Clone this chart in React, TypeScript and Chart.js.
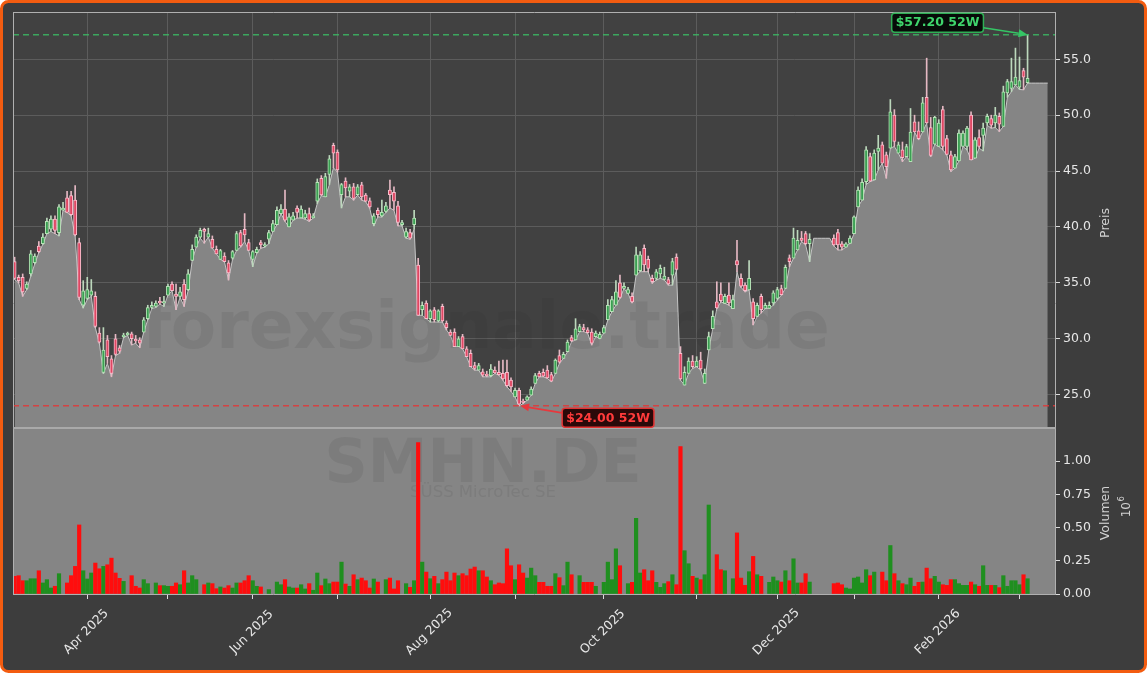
import React, { useEffect, useRef } from 'react';
import { Chart, registerables } from 'chart.js';

Chart.register(...registerables);

// ---- Data (SMHN.DE daily, trading-day index 0 = 2025-03-06) ----
const opens: (number | null)[] = [
  36.9, 35.5, 35.5, 34.5, 35.8, 36.8, 38.3, 38.5, 39.4, 39.8,
  40.7, 39.5, 41.5, 42.6, 42.8, 42.4, 38.6, 33.0, 33.6, 33.9,
  33.8, 30.5, 27.0, 29.9, 28.2, 30.0, 29.2, 30.2, 30.35, 30.45,
  29.95, 29.9, 30.6, 31.8, 32.8, 32.9, 33.35, 33.2, 33.9, 34.9,
  34.0, 33.8, 34.9, 34.4, 37.0, 38.2, 39.1, 39.8, 39.1, 38.9,
  38.0, 37.1, 37.4, 36.8, 37.2, 37.9, 39.5, 39.8, 38.6, 37.1,
  37.7, 38.6, 38.3, 38.9, 39.6, 40.2, 41.2, 41.6, 40.0, 40.6,
  41.7, 40.8, 40.8, 41.2, 40.8, 42.3, 44.35, 42.7, 44.7, 47.3,
  46.7, 42.9, 44.1, 43.2, 43.6, 42.9, 43.76, 42.86, 42.35, 40.3,
  41.5, 41.0, 41.4, 43.3, 43.1, 41.9, 40.2, 39.1, 39.5, 40.2,
  36.6, 32.6, 33.2, 31.8, 32.6, 31.6, 32.9, 31.4, 30.6, 30.6,
  29.3, 30.2, 29.1, 28.7, 27.6, 27.2, 27.05, 26.8, 26.7, 27.2,
  27.0, 26.9, 27.0, 26.3, 24.8, 25.4, 24.4, 24.5, 24.95, 26.0,
  26.9, 27.0, 27.2, 26.8, 26.9, 28.5, 28.25, 28.84, 30.1, 29.9,
  30.63, 31.0, 30.8, 30.6, 30.2, 30.04, 30.5, 31.7, 32.42, 33.0,
  35.0, 34.5, 34.06, 33.8, 35.7, 36.1, 38.1, 37.1, 35.4, 35.4,
  35.8, 35.3, 35.3, 35.7, 37.3, 28.7, 25.86, 26.9, 28.0, 27.5,
  28.1, 26.0, 29.0, 30.9, 33.3, 34.0, 33.17, 33.9, 32.7, 37.0,
  35.4, 34.8, 34.36, 33.3, 32.0, 33.8, 32.72, 32.72, 33.2, 33.6,
  34.5, 34.5, 37.25, 37.2, 37.94, 39.0, 39.4, 38.5, null, null,
  null, null, null, 39.0, 39.5, 38.5, 38.2, 38.54, 39.4, 41.8,
  42.4, 44.06, 46.3, 44.2, 46.75, 47.35, 46.45, 47.05, 50.0, 46.6,
  46.9, 46.3, 45.85, 49.4, 48.6, 48.5, 51.6, 48.9, 47.4, 47.2,
  50.5, 47.9, 46.45, 45.25, 45.9, 47.2, 47.2, 50.0, 46.15, 48.0,
  48.2, 49.3, 49.7, 49.3, 49.9, 49.0, 52.0, 52.4, 52.7, 52.5,
  54.0, 52.9, null, null, null, null, null,
];

const highs: (number | null)[] = [
  37.3, 35.7, 35.8, 35.1, 37.9, 37.6, 38.7, 39.4, 40.8, 41.0,
  41.0, 42.0, 42.2, 43.2, 43.2, 43.7, 39.0, 35.2, 35.5, 35.3,
  34.2, 31.0, 31.0, 30.3, 28.5, 30.4, 29.4, 30.5, 30.6, 30.6,
  30.3, 30.1, 31.9, 33.0, 33.3, 33.4, 33.7, 33.8, 34.9, 35.1,
  34.9, 34.6, 35.3, 36.2, 38.4, 39.3, 39.9, 39.9, 39.9, 39.2,
  38.3, 38.0, 37.7, 37.0, 37.9, 39.6, 39.7, 41.2, 38.9, 37.9,
  38.2, 38.8, 38.6, 39.7, 40.6, 41.8, 42.0, 43.3, 41.2, 41.3,
  41.9, 41.9, 41.5, 41.7, 41.2, 44.3, 44.6, 44.8, 46.4, 47.5,
  46.9, 43.9, 44.4, 43.8, 43.9, 43.8, 44.0, 43.0, 42.6, 41.2,
  41.7, 42.4, 42.2, 44.2, 43.6, 42.3, 40.6, 39.9, 39.8, 41.5,
  37.2, 33.3, 33.4, 32.6, 32.8, 32.6, 33.1, 31.6, 30.8, 30.9,
  30.2, 30.4, 29.3, 29.0, 27.9, 27.8, 27.3, 27.1, 27.7, 27.5,
  28.0, 28.1, 28.1, 26.5, 25.6, 25.6, 24.6, 24.9, 25.7, 26.9,
  27.1, 27.3, 27.6, 27.0, 28.2, 29.0, 28.8, 29.9, 30.3, 31.8,
  31.3, 31.3, 31.0, 30.9, 30.7, 30.6, 31.2, 33.5, 33.8, 35.2,
  35.7, 35.0, 34.6, 34.1, 38.2, 37.8, 38.4, 37.4, 35.7, 36.2,
  36.6, 36.4, 35.5, 37.2, 37.6, 29.3, 27.5, 28.3, 28.5, 28.4,
  28.8, 27.3, 30.6, 32.5, 35.1, 35.0, 34.0, 35.0, 33.9, 38.8,
  35.8, 35.0, 37.0, 33.6, 33.2, 34.0, 33.2, 33.3, 34.3, 34.6,
  34.8, 36.6, 37.5, 39.9, 39.7, 39.6, 39.6, 39.4, null, null,
  null, null, null, 39.3, 39.8, 38.7, 38.6, 39.2, 41.0, 43.6,
  44.3, 47.2, 46.6, 46.9, 48.2, 47.6, 46.7, 51.4, 50.5, 47.6,
  47.6, 47.4, 50.6, 50.0, 49.4, 51.6, 55.1, 49.8, 49.9, 49.6,
  50.8, 48.2, 46.8, 46.5, 48.7, 48.6, 49.0, 50.3, 48.0, 48.7,
  49.3, 50.1, 50.0, 50.7, 50.2, 52.6, 53.2, 55.1, 56.0, 55.2,
  54.2, 57.2, null, null, null, null, null,
];

const lows: number[] = [
  35.3, 35.0, 33.8, 34.4, 35.6, 36.7, 37.7, 38.45, 39.4, 39.6,
  39.4, 39.2, 41.5, 41.3, 41.0, 39.2, 33.5, 32.75, 33.5, 33.8,
  31.0, 29.6, 26.9, 27.8, 26.6, 28.5, 28.7, 30.1, 30.3, 29.45,
  29.6, 29.2, 30.6, 31.7, 32.7, 32.8, 33.1, 32.9, 33.9, 34.3,
  32.6, 33.7, 32.9, 34.3, 37.0, 38.2, 39.0, 38.55, 39.1, 38.1,
  37.6, 37.1, 36.9, 35.25, 37.1, 37.9, 38.2, 38.7, 37.9, 36.45,
  37.65, 38.1, 38.2, 38.5, 39.6, 40.2, 41.2, 40.5, 40.0, 40.6,
  40.8, 40.8, 40.7, 40.5, 40.8, 42.1, 42.8, 42.7, 43.8, 45.3,
  44.9, 41.7, 42.7, 42.7, 42.4, 42.85, 42.4, 42.26, 41.67, 40.1,
  40.9, 40.9, 41.3, 41.7, 41.5, 40.1, 40.1, 39.0, 38.9, 39.8,
  32.1, 32.1, 31.8, 31.5, 31.5, 31.5, 31.5, 30.8, 30.3, 29.3,
  29.3, 29.1, 28.4, 27.5, 27.2, 27.2, 26.6, 26.6, 26.6, 26.9,
  26.75, 26.3, 25.7, 25.3, 24.8, 24.0, 24.2, 24.5, 24.95, 26.0,
  26.6, 26.6, 26.46, 26.16, 26.9, 27.8, 28.25, 28.84, 29.74, 29.89,
  30.63, 30.63, 30.5, 29.44, 30.2, 30.0, 30.5, 31.68, 32.42, 33.0,
  33.62, 34.5, 34.06, 33.2, 35.7, 36.0, 36.0, 36.0, 34.96, 35.26,
  35.41, 35.26, 34.8, 34.8, 36.15, 26.3, 25.86, 26.9, 27.35, 27.5,
  27.2, 26.0, 28.99, 30.9, 32.7, 33.3, 33.17, 33.0, 32.7, 36.0,
  34.6, 34.2, 34.36, 31.23, 31.98, 32.3, 32.72, 32.72, 33.0, 33.47,
  33.9, 34.5, 36.45, 37.2, 37.94, 38.7, 38.4, 36.9, 38.99, 38.99,
  38.99, 38.99, 38.99, 38.3, 37.94, 37.95, 38.2, 38.54, 39.4, 41.8,
  42.4, 43.8, 44.06, 44.2, 45.1, 45.7, 44.36, 47.05, 47.2, 46.6,
  45.85, 46.3, 45.85, 48.5, 47.8, 48.5, 49.28, 46.3, 47.4, 47.2,
  46.9, 46.45, 44.96, 45.25, 45.9, 47.2, 46.9, 46.0, 46.15, 47.05,
  46.8, 49.1, 48.84, 48.9, 48.54, 48.99, 51.6, 52.1, 52.7, 52.3,
  52.27, 52.87, 52.87, 52.87, 52.87, 52.87, 52.87,
];

const closes: (number | null)[] = [
  35.4, 35.2, 34.2, 34.9, 37.6, 37.4, 37.8, 39.1, 40.5, 40.7,
  39.7, 41.8, 41.7, 41.3, 41.1, 39.3, 33.7, 34.3, 34.4, 34.3,
  31.1, 29.7, 29.0, 28.4, 26.9, 28.6, 28.9, 30.3, 30.5, 30.0,
  29.8, 29.6, 31.7, 32.8, 33.0, 33.2, 33.2, 33.3, 34.7, 34.3,
  33.8, 34.2, 33.5, 35.8, 38.0, 39.1, 39.7, 39.6, 39.4, 38.1,
  37.6, 37.9, 36.9, 35.9, 37.8, 39.4, 38.3, 39.3, 37.9, 37.8,
  38.0, 38.4, 38.4, 39.5, 40.3, 41.5, 41.6, 40.6, 40.9, 41.0,
  41.3, 41.6, 41.2, 40.6, 41.0, 44.0, 42.86, 44.5, 46.1, 46.6,
  45.1, 43.8, 43.5, 43.6, 42.55, 43.6, 42.7, 42.3, 41.8, 41.0,
  41.1, 41.3, 41.9, 42.9, 42.3, 40.4, 40.4, 39.6, 39.0, 40.8,
  32.1, 33.0, 31.8, 32.5, 31.7, 32.5, 31.6, 31.0, 30.3, 29.3,
  30.0, 29.1, 28.4, 27.5, 27.35, 27.6, 26.75, 26.7, 27.3, 26.95,
  26.8, 26.4, 25.8, 25.7, 25.4, 24.15, 24.3, 24.8, 25.5, 26.7,
  26.6, 26.65, 26.5, 26.2, 28.1, 27.9, 28.6, 29.7, 29.8, 30.9,
  31.1, 30.8, 30.55, 29.6, 30.5, 30.4, 31.0, 33.0, 33.5, 34.2,
  33.7, 34.7, 34.4, 33.3, 37.5, 37.5, 36.6, 36.3, 35.1, 36.0,
  36.3, 35.6, 34.9, 36.9, 36.2, 26.4, 27.0, 28.0, 27.5, 28.0,
  27.3, 26.9, 30.2, 32.0, 32.75, 33.4, 33.8, 33.2, 33.5, 36.6,
  34.7, 34.3, 35.4, 31.8, 33.0, 32.6, 33.0, 33.0, 34.1, 34.4,
  33.95, 36.4, 36.9, 39.0, 38.8, 38.8, 38.5, 38.9, null, null,
  null, null, null, 38.4, 38.4, 38.2, 38.5, 39.0, 40.9, 43.3,
  44.0, 46.9, 44.1, 46.6, 47.05, 45.7, 45.4, 50.3, 47.65, 47.35,
  46.2, 47.2, 48.5, 48.5, 47.9, 51.1, 49.3, 46.4, 49.8, 49.3,
  47.2, 46.5, 45.1, 46.3, 48.4, 48.4, 48.84, 46.0, 47.8, 47.2,
  48.84, 49.9, 49.1, 50.0, 49.2, 52.1, 53.0, 53.0, 53.4, 53.1,
  53.4, 53.3, null, null, null, null, null,
];

const volumes: number[] = [
  133000, 138000, 100000, 100000, 115000, 115000, 175000, 83000, 108000, 45000,
  58000, 153000, 0, 83000, 138000, 208000, 520000, 175000, 113000, 158000,
  233000, 190000, 208000, 220000, 270000, 158000, 118000, 95000, 0, 138000,
  58000, 45000, 108000, 78000, 0, 83000, 63000, 63000, 58000, 58000,
  83000, 70000, 175000, 83000, 138000, 108000, 0, 70000, 83000, 78000,
  40000, 53000, 45000, 63000, 45000, 83000, 83000, 100000, 138000, 100000,
  58000, 53000, 0, 33000, 0, 90000, 70000, 108000, 53000, 45000,
  45000, 70000, 38000, 78000, 28000, 158000, 63000, 113000, 78000, 90000,
  90000, 240000, 75000, 58000, 145000, 108000, 120000, 100000, 45000, 113000,
  90000, 0, 108000, 120000, 38000, 100000, 0, 78000, 50000, 100000,
  1140000, 240000, 165000, 115000, 133000, 78000, 108000, 165000, 100000, 158000,
  138000, 153000, 138000, 188000, 203000, 175000, 175000, 128000, 100000, 70000,
  83000, 78000, 340000, 213000, 108000, 220000, 158000, 120000, 195000, 138000,
  88000, 88000, 58000, 58000, 153000, 123000, 63000, 240000, 145000, 0,
  138000, 88000, 88000, 88000, 58000, 0, 88000, 240000, 108000, 340000,
  213000, 0, 78000, 88000, 570000, 158000, 183000, 100000, 175000, 88000,
  50000, 78000, 93000, 145000, 70000, 1110000, 326000, 228000, 133000, 120000,
  108000, 145000, 670000, 0, 296000, 183000, 175000, 0, 115000, 460000,
  120000, 65000, 168000, 283000, 145000, 133000, 0, 88000, 128000, 100000,
  90000, 175000, 100000, 265000, 83000, 83000, 153000, 90000, 0, 0,
  0, 0, 0, 78000, 83000, 70000, 45000, 38000, 120000, 128000,
  83000, 183000, 138000, 165000, 0, 165000, 100000, 365000, 153000, 100000,
  78000, 70000, 120000, 58000, 88000, 90000, 195000, 115000, 133000, 90000,
  70000, 65000, 108000, 108000, 78000, 65000, 65000, 90000, 70000, 58000,
  213000, 65000, 65000, 65000, 48000, 138000, 58000, 100000, 100000, 70000,
  145000, 115000, 0, 0, 0, 0, 0,
];

// first trading day of each month (index) and their labels
const monthTickIdx = [18, 38, 59, 80, 103, 124, 146, 169, 189, 208, 229, 249];
const monthTickLabels = ['Apr 2025', '', 'Jun 2025', '', 'Aug 2025', '', 'Oct 2025', '', 'Dec 2025', '', 'Feb 2026', ''];
const priceTicks = [25, 30, 35, 40, 45, 50, 55];
const volumeTicks = [0, 250000, 500000, 750000, 1000000];
const high52 = 57.2;
const low52 = 24.0;
const high52Idx = 251;
const low52Idx = 125;

// ---- Styling / layout ----
const W = 1147;
const H = 673;
const FONT = '"DejaVu Sans", "Liberation Sans", sans-serif';
const UP_FILL = '#3a9f52';
const UP_EDGE = '#b6e3b6';
const DN_FILL = '#df4763';
const DN_EDGE = '#f9bccb';
const UP_WICK = '#bcd8bc';
const DN_WICK = '#e4b8c3';
const VOL_UP = '#1f8f1f';
const VOL_DN = '#ff0d0d';

function roundRectPath(ctx: CanvasRenderingContext2D, x: number, y: number, w: number, h: number, r: number) {
  ctx.beginPath();
  ctx.moveTo(x + r, y);
  ctx.lineTo(x + w - r, y);
  ctx.arcTo(x + w, y, x + w, y + r, r);
  ctx.lineTo(x + w, y + h - r);
  ctx.arcTo(x + w, y + h, x + w - r, y + h, r);
  ctx.lineTo(x + r, y + h);
  ctx.arcTo(x, y + h, x, y + h - r, r);
  ctx.lineTo(x, y + r);
  ctx.arcTo(x, y, x + r, y, r);
  ctx.closePath();
}

function drawArrow(ctx: CanvasRenderingContext2D, x0: number, y0: number, x1: number, y1: number, color: string) {
  const ang = Math.atan2(y1 - y0, x1 - x0);
  const hl = 9;
  const hw = 4;
  const bx = x1 - hl * Math.cos(ang);
  const by = y1 - hl * Math.sin(ang);
  ctx.save();
  ctx.strokeStyle = color;
  ctx.fillStyle = color;
  ctx.lineWidth = 1.6;
  ctx.beginPath();
  ctx.moveTo(x0, y0);
  ctx.lineTo(bx, by);
  ctx.stroke();
  ctx.beginPath();
  ctx.moveTo(x1, y1);
  ctx.lineTo(bx + hw * Math.sin(ang), by - hw * Math.cos(ang));
  ctx.lineTo(bx - hw * Math.sin(ang), by + hw * Math.cos(ang));
  ctx.closePath();
  ctx.fill();
  ctx.restore();
}

function drawLabelBox(ctx: CanvasRenderingContext2D, text: string, cx: number, cy: number, fg: string, bg: string, edge: string) {
  ctx.save();
  ctx.font = `bold 12.5px ${FONT}`;
  const tw = ctx.measureText(text).width;
  const w = tw + 8;
  const h = 19;
  roundRectPath(ctx, cx - w / 2, cy - h / 2, w, h, 3);
  ctx.fillStyle = bg;
  ctx.fill();
  ctx.lineWidth = 1.5;
  ctx.strokeStyle = edge;
  ctx.stroke();
  ctx.fillStyle = fg;
  ctx.textAlign = 'center';
  ctx.textBaseline = 'middle';
  ctx.fillText(text, cx, cy + 0.5);
  ctx.restore();
  return w;
}

export default function App() {
  const ref = useRef<HTMLCanvasElement | null>(null);

  useEffect(() => {
    const canvas = ref.current;
    if (!canvas) return;
    const idxs = lows.map((_, i) => i);
    const candleIdx = idxs.filter((i) => opens[i] !== null && closes[i] !== null);
    const volIdx = idxs.filter((i) => volumes[i] > 0);
    const isUp = (i: number) => (closes[i] as number) >= (opens[i] as number);

    const deco = {
      id: 'deco',
      beforeDraw(chart: any) {
        const ctx = chart.ctx as CanvasRenderingContext2D;
        const a = chart.chartArea;
        const yP = chart.scales.yP;
        ctx.save();
        ctx.fillStyle = '#ffffff';
        ctx.fillRect(0, 0, W, H);
        roundRectPath(ctx, 1.5, 1.5, W - 3, H - 3, 7);
        ctx.fillStyle = '#3d3d3d';
        ctx.fill();
        ctx.lineWidth = 3;
        ctx.strokeStyle = '#f35c10';
        ctx.stroke();
        ctx.fillStyle = '#414141';
        ctx.fillRect(a.left, yP.top, a.right - a.left, yP.bottom - yP.top);
        ctx.restore();
      },
      beforeDatasetsDraw(chart: any) {
        const ctx = chart.ctx as CanvasRenderingContext2D;
        const a = chart.chartArea;
        const yV = chart.scales.yV;
        ctx.save();
        ctx.fillStyle = '#858585';
        ctx.fillRect(a.left, yV.top, a.right - a.left, yV.bottom - yV.top);
        ctx.restore();
      },
      afterDatasetDraw(chart: any, args: any) {
        if (args.index !== 0) return;
        const ctx = chart.ctx as CanvasRenderingContext2D;
        const a = chart.chartArea;
        ctx.save();
        ctx.beginPath();
        ctx.rect(a.left, a.top, a.right - a.left, a.bottom - a.top);
        ctx.clip();
        ctx.fillStyle = 'rgba(40,40,40,0.095)';
        ctx.textAlign = 'center';
        ctx.textBaseline = 'alphabetic';
        ctx.font = `bold 66px ${FONT}`;
        ctx.fillText('forexsignale.trade', 486, 348);
        ctx.font = `bold 60px ${FONT}`;
        ctx.fillText('SMHN.DE', 483, 482);
        ctx.font = `16.5px ${FONT}`;
        ctx.fillText('SÜSS MicroTec SE', 483, 497);
        ctx.restore();
      },
      afterDatasetsDraw(chart: any) {
        const ctx = chart.ctx as CanvasRenderingContext2D;
        const a = chart.chartArea;
        const xs = chart.scales.x;
        const yP = chart.scales.yP;
        const yV = chart.scales.yV;
        // 52-week lines
        ctx.save();
        ctx.beginPath();
        ctx.rect(a.left, yP.top, a.right - a.left, yP.bottom - yP.top);
        ctx.clip();
        ctx.setLineDash([6, 4]);
        ctx.lineWidth = 1.5;
        const yh = yP.getPixelForValue(high52);
        ctx.strokeStyle = 'rgba(60,185,100,0.85)';
        ctx.beginPath();
        ctx.moveTo(a.left, yh);
        ctx.lineTo(a.right, yh);
        ctx.stroke();
        const yl = yP.getPixelForValue(low52);
        ctx.strokeStyle = 'rgba(225,55,55,0.85)';
        ctx.beginPath();
        ctx.moveTo(a.left, yl);
        ctx.lineTo(a.right, yl);
        ctx.stroke();
        ctx.restore();

        // spines
        ctx.save();
        ctx.strokeStyle = '#b0b0b0';
        ctx.lineWidth = 1;
        ctx.beginPath();
        ctx.moveTo(a.left, yP.top + 0.5);
        ctx.lineTo(a.right + 1, yP.top + 0.5);
        ctx.moveTo(a.left + 0.5, yP.top);
        ctx.lineTo(a.left + 0.5, yV.bottom + 1);
        ctx.moveTo(a.right + 0.5, yP.top);
        ctx.lineTo(a.right + 0.5, yV.bottom + 1);
        ctx.moveTo(a.left, yV.bottom + 0.5);
        ctx.lineTo(a.right + 1, yV.bottom + 0.5);
        ctx.stroke();
        ctx.strokeStyle = '#a9a9a9';
        ctx.lineWidth = 2;
        ctx.beginPath();
        ctx.moveTo(a.left, yP.bottom);
        ctx.lineTo(a.right + 1, yP.bottom);
        ctx.stroke();
        ctx.restore();

        // 52W annotations
        const hx = xs.getPixelForValue(high52Idx);
        const hy = yP.getPixelForValue(high52);
        const hw = drawLabelBox(ctx, `$${high52.toFixed(2)} 52W`, hx - 90, hy - 12, '#3fd46c', '#070b08', '#2fae55');
        drawArrow(ctx, hx - 90 + hw / 2, hy - 7, hx, hy, '#35c565');
        const lx = xs.getPixelForValue(low52Idx);
        const ly = yP.getPixelForValue(low52);
        const lw = drawLabelBox(ctx, `$${low52.toFixed(2)} 52W`, lx + 89, ly + 12, '#ff3b3b', '#2a0909', '#e23333');
        drawArrow(ctx, lx + 89 - lw / 2, ly + 7, lx + 1, ly, '#e8383d');
      },
      afterDraw(chart: any) {
        const ctx = chart.ctx as CanvasRenderingContext2D;
        const xs = chart.scales.x;
        const yP = chart.scales.yP;
        const yV = chart.scales.yV;
        const a = chart.chartArea;
        ctx.save();
        ctx.fillStyle = '#e6e6e6';
        ctx.font = `12.5px ${FONT}`;
        ctx.textAlign = 'center';
        ctx.textBaseline = 'middle';
        monthTickIdx.forEach((v, k) => {
          const lab = monthTickLabels[k];
          if (!lab) return;
          const px = xs.getPixelForValue(v);
          ctx.save();
          ctx.translate(px - 1, a.bottom + 38);
          ctx.rotate(-Math.PI / 4);
          ctx.fillText(lab, 0, 0);
          ctx.restore();
        });
        // axis titles
        ctx.fillStyle = '#d2d2d2';
        ctx.save();
        ctx.translate(1106, (yP.top + yP.bottom) / 2 + 3);
        ctx.rotate(-Math.PI / 2);
        ctx.fillText('Preis', 0, 0);
        ctx.restore();
        ctx.save();
        ctx.translate(1105.5, (yV.top + yV.bottom) / 2 + 2);
        ctx.rotate(-Math.PI / 2);
        ctx.fillText('Volumen', 0, 0);
        ctx.restore();
        ctx.save();
        ctx.translate(1126, (yV.top + yV.bottom) / 2 - 4);
        ctx.rotate(-Math.PI / 2);
        ctx.font = `12px ${FONT}`;
        const w10 = ctx.measureText('10').width;
        ctx.font = `8.5px ${FONT}`;
        const w6 = ctx.measureText('6').width;
        const sx = -(w10 + w6) / 2;
        ctx.textAlign = 'left';
        ctx.font = `12px ${FONT}`;
        ctx.fillText('10', sx, 1);
        ctx.font = `8.5px ${FONT}`;
        ctx.fillText('6', sx + w10 + 0.5, -4);
        ctx.restore();
        ctx.restore();
      },
    };

    const chart = new Chart(canvas, {
      type: 'bar',
      data: {
        datasets: [
          {
            type: 'line',
            label: 'Tief',
            yAxisID: 'yP',
            xAxisID: 'x',
            data: lows.map((v, i) => ({ x: i, y: v })),
            borderColor: '#c6c6c6',
            borderWidth: 1,
            backgroundColor: '#858585',
            fill: 'start',
            pointRadius: 0,
            tension: 0,
            order: 10,
          } as any,
          {
            type: 'bar',
            label: 'Docht',
            yAxisID: 'yP',
            xAxisID: 'x',
            data: candleIdx.map((i) => ({ x: i, y: [lows[i], highs[i] as number] })),
            backgroundColor: candleIdx.map((i) => (isUp(i) ? UP_WICK : DN_WICK)),
            barThickness: 1,
            grouped: false,
            order: 5,
          } as any,
          {
            type: 'bar',
            label: 'Kerze',
            yAxisID: 'yP',
            xAxisID: 'x',
            data: candleIdx.map((i) => ({ x: i, y: [opens[i] as number, closes[i] as number] })),
            backgroundColor: candleIdx.map((i) => (isUp(i) ? UP_FILL : DN_FILL)),
            borderColor: candleIdx.map((i) => (isUp(i) ? UP_EDGE : DN_EDGE)),
            borderWidth: 1,
            borderSkipped: false,
            barThickness: 3.2,
            minBarLength: 1.5,
            grouped: false,
            order: 4,
          } as any,
          {
            type: 'bar',
            label: 'Volumen',
            yAxisID: 'yV',
            xAxisID: 'x',
            data: volIdx.map((i) => ({ x: i, y: volumes[i] })),
            backgroundColor: volIdx.map((i) => (isUp(i) ? VOL_UP : VOL_DN)),
            barThickness: 3.5,
            grouped: false,
            order: 1,
          } as any,
        ],
      },
      options: {
        responsive: false,
        maintainAspectRatio: false,
        devicePixelRatio: 1,
        animation: false,
        events: [],
        layout: { padding: { left: 13, top: 12, right: 0, bottom: 0 } },
        plugins: { legend: { display: false }, tooltip: { enabled: false } },
        scales: {
          x: {
            type: 'linear',
            position: 'bottom',
            min: -0.4,
            max: 257.8,
            offset: false,
            afterBuildTicks: (s: any) => {
              s.ticks = monthTickIdx.map((v) => ({ value: v }));
            },
            afterFit: (s: any) => {
              s.height = 79;
            },
            grid: { color: '#5c5c5c', lineWidth: 1, tickColor: '#dcdcdc', tickLength: 5, offset: false },
            border: { display: false },
            ticks: { display: false },
          },
          yP: {
            type: 'linear',
            position: 'right',
            stack: 'main',
            stackWeight: 416,
            min: 22.02,
            max: 59.23,
            offset: false,
            afterBuildTicks: (s: any) => {
              s.ticks = priceTicks.map((v) => ({ value: v }));
            },
            afterFit: (s: any) => {
              s.width = 92;
            },
            grid: { color: '#5c5c5c', lineWidth: 1, tickColor: '#dcdcdc', tickLength: 5 },
            border: { display: false },
            ticks: {
              color: '#e6e6e6',
              padding: 3,
              font: { family: FONT, size: 12.5 },
              callback: (v: any) => Number(v).toFixed(1),
            },
          },
          yV: {
            type: 'linear',
            position: 'right',
            stack: 'main',
            stackWeight: 166,
            min: 0,
            max: 1250000,
            offset: false,
            afterBuildTicks: (s: any) => {
              s.ticks = volumeTicks.map((v) => ({ value: v }));
            },
            afterFit: (s: any) => {
              s.width = 92;
            },
            grid: { drawOnChartArea: false, tickColor: '#dcdcdc', tickLength: 5 },
            border: { display: false },
            ticks: {
              color: '#e6e6e6',
              padding: 3,
              font: { family: FONT, size: 12.5 },
              callback: (v: any) => (Number(v) / 1e6).toFixed(2),
            },
          },
        },
      } as any,
      plugins: [deco as any],
    });

    return () => chart.destroy();
  }, []);

  return (
    <div style={{ position: 'absolute', left: 0, top: 0, width: W, height: H }}>
      <canvas ref={ref} width={W} height={H} style={{ display: 'block', width: W, height: H }} />
    </div>
  );
}
